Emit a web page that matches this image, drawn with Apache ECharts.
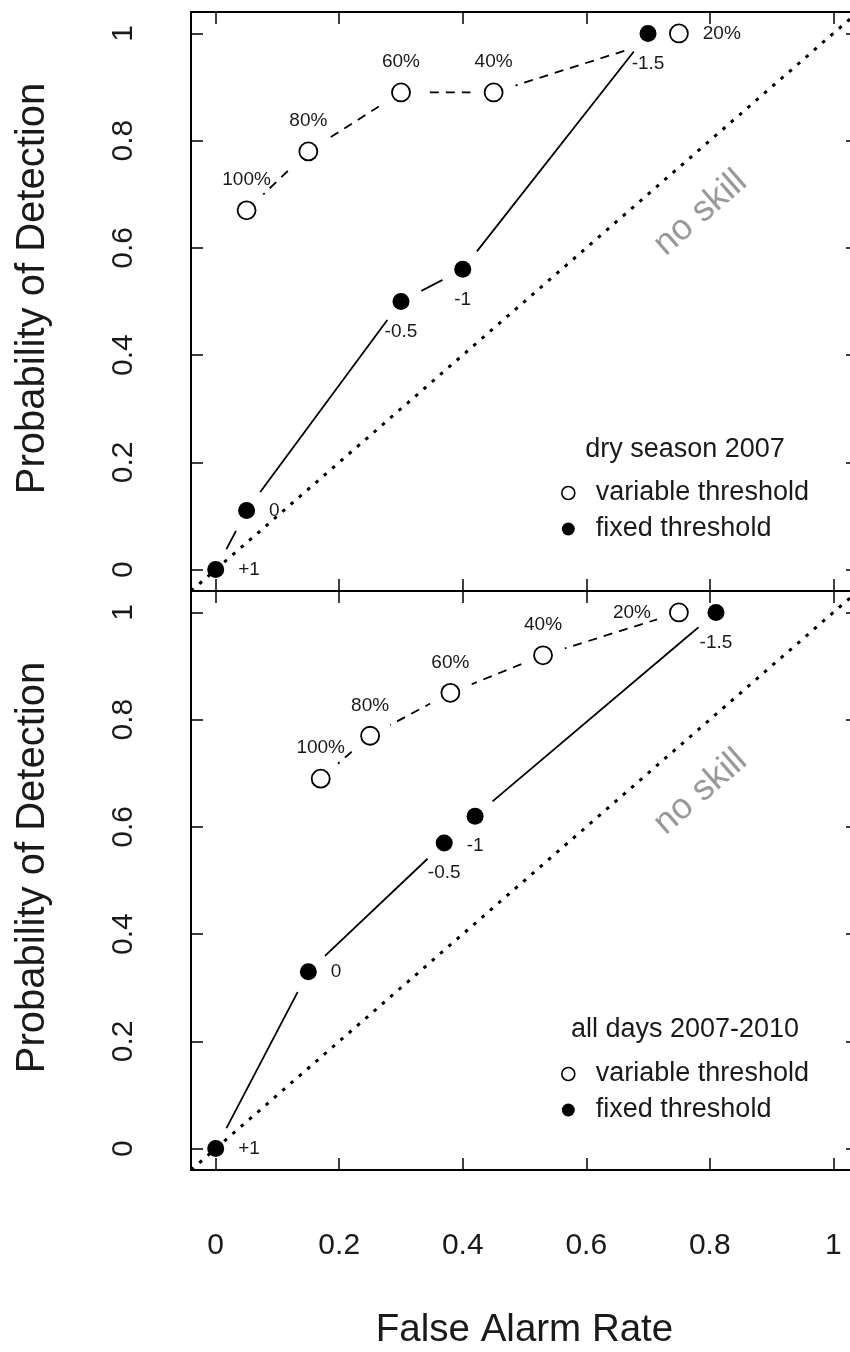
<!DOCTYPE html>
<html>
<head>
<meta charset="utf-8">
<script src="https://cdn.jsdelivr.net/npm/echarts@6/dist/echarts.min.js"></script>
<style>
  html, body { margin: 0; padding: 0; background: #fff; }
  #chart { width: 850px; height: 1352px; }
</style>
</head>
<body>
<div id="chart"></div>
<script>
// ---- data ----
const xTicks = [0, 0.2, 0.4, 0.6, 0.8, 1];
const yTicks = [0, 0.2, 0.4, 0.6, 0.8, 1];
const axisMin = -0.04;
const axisMax = 1.04;

const varLabels = ['100%', '80%', '60%', '40%', '20%'];
const fixLabels = ['+1', '0', '-0.5', '-1', '-1.5'];

// dry season 2007
const dryVarFAR = [0.05, 0.15, 0.30, 0.45, 0.75];
const dryVarPOD = [0.67, 0.78, 0.89, 0.89, 1.00];
const dryFixFAR = [0.00, 0.05, 0.30, 0.40, 0.70];
const dryFixPOD = [0.00, 0.11, 0.50, 0.56, 1.00];

// all days 2007-2010
const allVarFAR = [0.17, 0.25, 0.38, 0.53, 0.75];
const allVarPOD = [0.69, 0.77, 0.85, 0.92, 1.00];
const allFixFAR = [0.00, 0.15, 0.37, 0.42, 0.81];
const allFixPOD = [0.00, 0.33, 0.57, 0.62, 1.00];

// no-skill diagonal (POD = FAR) across the whole axis range
const noSkillFAR = [axisMin, axisMax];
const noSkillPOD = [axisMin, axisMax];
const noSkillText = 'no skill';
const noSkillTextAt = [0.785, 0.665];

const panelTitles = ['dry season 2007', 'all days 2007-2010'];
const legendNames = ['variable threshold', 'fixed threshold'];
const xTitle = 'False Alarm Rate';
const yTitle = 'Probability of Detection';

// ---- styles / layout ----
const FONT = '"Liberation Sans", Arial, Helvetica, sans-serif';
const TXT = '#1a1a1a';
const dryVarPlace = ['top', 'top', 'top', 'top', 'right'];
const dryFixPlace = ['right', 'right', 'bottom', 'bottom', 'bottom'];
const allVarPlace = ['top', 'top', 'top', 'top', 'left'];
const allFixPlace = ['right', 'right', 'bottom', 'bottom', 'bottom'];

const panels = [
  { varX: dryVarFAR, varY: dryVarPOD, fixX: dryFixFAR, fixY: dryFixPOD, varPlace: dryVarPlace, fixPlace: dryFixPlace },
  { varX: allVarFAR, varY: allVarPOD, fixX: allFixFAR, fixY: allFixPOD, varPlace: allVarPlace, fixPlace: allFixPlace }
];

const gridLeft = 191, gridWidth = 667, gridHeight = 579;
const gridTops = [12, 591];

function zip(xs, ys) { return xs.map((x, i) => [x, ys[i]]); }
const labelDist = { top: 11, bottom: 12, right: 14, left: 18 };

const grids = [], xAxes = [], yAxes = [], series = [], graphics = [], legends = [];

panels.forEach((p, i) => {
  grids.push({ left: gridLeft, top: gridTops[i], width: gridWidth, height: gridHeight, outerBoundsMode: 'none', containLabel: false });
  const isLast = i === panels.length - 1;
  const lineStyle = { color: '#000', width: 2 };
  ['bottom', 'top'].forEach(pos => {
    xAxes.push({
      type: 'value', gridIndex: i, position: pos, min: axisMin, max: axisMax, z: 10,
      axisLine: { show: true, onZero: false, lineStyle },
      axisTick: { show: true, inside: true, length: 12, customValues: xTicks, lineStyle: { color: '#000', width: 1.5 } },
      axisLabel: { show: isLast && pos === 'bottom', customValues: xTicks, margin: 61, fontSize: 30, color: TXT, fontFamily: FONT },
      splitLine: { show: false },
      name: (isLast && pos === 'bottom') ? xTitle : '',
      nameLocation: 'middle', nameGap: 141,
      nameTextStyle: { fontSize: 38.5, color: TXT, fontFamily: FONT }
    });
  });
  ['left', 'right'].forEach(pos => {
    yAxes.push({
      type: 'value', gridIndex: i, position: pos, min: axisMin, max: axisMax, z: 10,
      axisLine: { show: true, onZero: false, lineStyle },
      axisTick: { show: true, inside: true, length: 12, customValues: yTicks, lineStyle: { color: '#000', width: 1.5 } },
      axisLabel: { show: pos === 'left', customValues: yTicks, rotate: 90, margin: 52, fontSize: 30, color: TXT, fontFamily: FONT },
      splitLine: { show: false },
      name: pos === 'left' ? yTitle : '',
      nameLocation: 'middle', nameGap: 138, nameRotate: 90,
      nameTextStyle: { fontSize: 40, color: TXT, fontFamily: FONT, padding: [0, 0, 0, 26] }
    });
  });

  const xi = 2 * i, yi = 2 * i;
  const varPts = zip(p.varX, p.varY);
  const fixPts = zip(p.fixX, p.fixY);

  // connecting lines
  series.push({
    type: 'line', xAxisIndex: xi, yAxisIndex: yi, data: varPts, symbol: 'none', silent: true, z: 1,
    lineStyle: { color: '#000', width: 1.8, type: [9, 7], opacity: 1 }, animation: false
  });
  series.push({
    type: 'line', xAxisIndex: xi, yAxisIndex: yi, data: fixPts, symbol: 'none', silent: true, z: 1,
    lineStyle: { color: '#000', width: 1.8, type: 'solid', opacity: 1 }, animation: false
  });
  // white gaps around points (like R type = "b")
  [varPts, fixPts].forEach(pts => {
    series.push({
      type: 'scatter', xAxisIndex: xi, yAxisIndex: yi, data: pts, symbol: 'circle', symbolSize: 46,
      itemStyle: { color: '#fff', opacity: 1 }, silent: true, z: 2, animation: false, clip: false
    });
  });
  // no-skill diagonal
  series.push({
    type: 'line', xAxisIndex: xi, yAxisIndex: yi, data: zip(noSkillFAR, noSkillPOD), symbol: 'none', silent: true, z: 3,
    lineStyle: { color: '#000', width: 3, type: [3.5, 7.5], cap: 'butt', opacity: 1 }, animation: false
  });
  series.push({
    type: 'scatter', xAxisIndex: xi, yAxisIndex: yi, data: [noSkillTextAt], symbolSize: 0, silent: true, z: 3,
    itemStyle: { opacity: 1 },
    label: { show: true, position: 'inside', formatter: noSkillText, rotate: 41, fontSize: 36, color: '#999999', fontFamily: FONT },
    animation: false
  });
  // points with labels
  series.push({
    type: 'scatter', name: legendNames[0], xAxisIndex: xi, yAxisIndex: yi, z: 4, animation: false,
    symbol: 'circle', symbolSize: 18,
    itemStyle: { color: '#fff', borderColor: '#000', borderWidth: 1.8, opacity: 1 },
    data: varPts.map((v, k) => ({
      value: v,
      label: { show: true, formatter: varLabels[k], position: p.varPlace[k], distance: labelDist[p.varPlace[k]],
               fontSize: 19, color: TXT, fontFamily: FONT }
    }))
  });
  series.push({
    type: 'scatter', name: legendNames[1], xAxisIndex: xi, yAxisIndex: yi, z: 4, animation: false,
    symbol: 'circle', symbolSize: 17,
    itemStyle: { color: '#000', opacity: 1 },
    data: fixPts.map((v, k) => ({
      value: v,
      label: { show: true, formatter: fixLabels[k], position: p.fixPlace[k], distance: labelDist[p.fixPlace[k]],
               fontSize: 19, color: TXT, fontFamily: FONT }
    }))
  });
});

// panel legends (title + two entries)
const legendTitleY = [450, 1030];
const legendTops = [479.5, 1060.5];
legendTops.forEach((t, i) => {
  graphics.push({
    type: 'text', x: 685, y: legendTitleY[i], z: 20,
    style: { text: panelTitles[i], fontSize: 27, fill: TXT, fontFamily: FONT, align: 'center', verticalAlign: 'middle', textAlign: 'center', textVerticalAlign: 'middle' }
  });
  legends.push({
    orient: 'vertical', left: 561, top: t, padding: 0, itemGap: 9, itemWidth: 13, itemHeight: 13,
    selectedMode: false,
    textStyle: { fontSize: 27, color: TXT, fontFamily: FONT, padding: [0, 0, 0, 16] },
    data: [
      { name: legendNames[0], icon: 'circle', itemStyle: { color: '#fff', borderColor: '#000', borderWidth: 1.6, opacity: 1 } },
      { name: legendNames[1], icon: 'circle', itemStyle: { color: '#000', borderWidth: 0, opacity: 1 } }
    ]
  });
});

const chart = echarts.init(document.getElementById('chart'), null, { renderer: 'canvas' });
chart.setOption({
  backgroundColor: '#fff',
  animation: false,
  textStyle: { fontFamily: FONT },
  grid: grids,
  xAxis: xAxes,
  yAxis: yAxes,
  legend: legends,
  graphic: graphics,
  series: series
});
</script>
</body>
</html>
